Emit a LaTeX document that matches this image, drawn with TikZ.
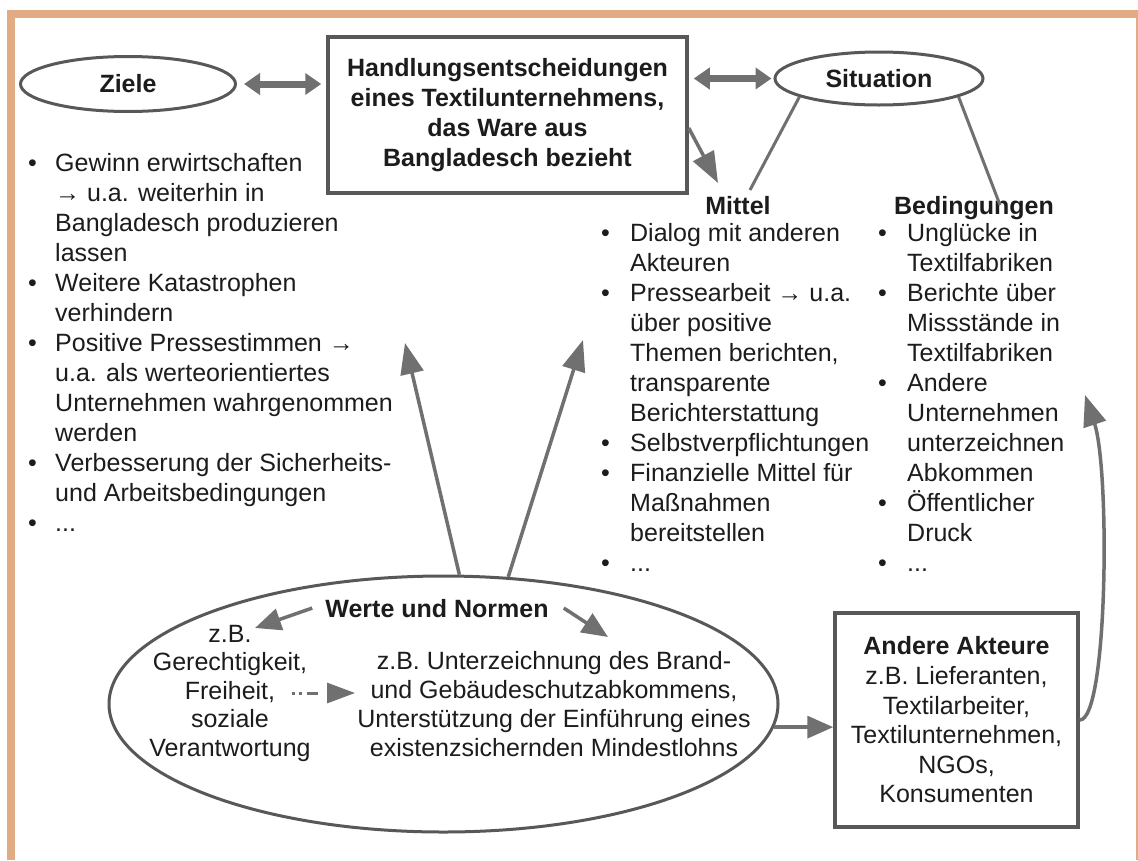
\documentclass[tikz,border=0pt]{standalone}
\usepackage{fontspec}
\setmainfont{Liberation Sans}
\usepackage{array}
\usetikzlibrary{arrows.meta,shapes.geometric,calc}
\newcommand{\setfs}[2]{\fontsize{#1}{#2}\selectfont}
\definecolor{frametan}{RGB}{225,171,131}
\definecolor{edgegray}{RGB}{88,88,88}
\definecolor{arrowgray}{RGB}{112,112,112}
\definecolor{txt}{RGB}{28,28,28}
\begin{document}
\begin{tikzpicture}[x=1pt,y=-1pt,
  ell/.style={ellipse, draw=edgegray, line width=3pt, inner sep=0pt, text=txt},
  boxst/.style={draw=edgegray, line width=3.5pt, inner sep=0pt, text=txt},
  lbl/.style={inner sep=0pt, text=txt, font=\setfs{25}{30}},
  hdg/.style={inner sep=0pt, text=txt, font=\bfseries\setfs{25}{30}},
  dbl/.style={draw=arrowgray, line width=7pt, {Triangle[length=16pt,width=21pt]}-{Triangle[length=16pt,width=21pt]}},
  bigarr/.style={draw=arrowgray, line width=3.5pt, -{Triangle[length=31pt,width=23pt]}},
  midarr/.style={draw=arrowgray, line width=3.5pt, -{Triangle[length=26pt,width=22pt]}},
  dasharr/.style={draw=arrowgray, line width=3pt, dash pattern=on 3pt off 4pt on 3pt off 5pt on 11pt off 20pt, -{Triangle[length=28pt,width=20pt]}},
  plainln/.style={draw=arrowgray, line width=3pt},
]
\fill[white] (0,0) rectangle (1138,860);
\useasboundingbox (0,0) rectangle (1138,860);
% frame
\draw[frametan, line width=8pt, line join=miter] (11,860) -- (11,14) -- (1138,14);
\draw[frametan, line width=2pt] (1136.5,14) -- (1136.5,860);

% top row
\node[ell, minimum width=215pt, minimum height=55pt, font=\bfseries\setfs{25}{30}] (ziele) at (128,84) {Ziele};
\node[boxst, minimum width=359pt, minimum height=156pt, font=\bfseries\setfs{25}{30}, align=center] (box) at (507.5,115)
  {Handlungsentscheidungen\\eines Textilunternehmens,\\das Ware aus\\Bangladesch bezieht};
\node[ell, minimum width=208pt, minimum height=53pt, font=\bfseries\setfs{25}{30}] (sit) at (879,78.5) {Situation};

% headings
\node[hdg, anchor=base] (mittel) at (738,214) {Mittel};
\node[hdg, anchor=base] (bed) at (974,214) {Bedingungen};

% lists
\node[lbl, anchor=base west] (zlist) at (28,171) {\begin{tabular}[t]{@{}p{27pt}@{}l@{}}
\textbullet & Gewinn erwirtschaften\\
 & → u.a. weiterhin in\\
 & Bangladesch produzieren\\
 & lassen\\
\textbullet & Weitere Katastrophen\\
 & verhindern\\
\textbullet & Positive Pressestimmen →\\
 & u.a. als werteorientiertes\\
 & Unternehmen wahrgenommen\\
 & werden\\
\textbullet & Verbesserung der Sicherheits-\\
 & und Arbeitsbedingungen\\
\textbullet & ...
\end{tabular}};

\node[lbl, anchor=base west] (mlist) at (601,241) {\begin{tabular}[t]{@{}p{29pt}@{}l@{}}
\textbullet & Dialog mit anderen\\
 & Akteuren\\
\textbullet & Pressearbeit → u.a.\\
 & über positive\\
 & Themen berichten,\\
 & transparente\\
 & Berichterstattung\\
\textbullet & Selbstverpflichtungen\\
\textbullet & Finanzielle Mittel für\\
 & Maßnahmen\\
 & bereitstellen\\
\textbullet & ...
\end{tabular}};

\node[lbl, anchor=base west] (blist) at (878,241) {\begin{tabular}[t]{@{}p{29pt}@{}l@{}}
\textbullet & Unglücke in\\
 & Textilfabriken\\
\textbullet & Berichte über\\
 & Missstände in\\
 & Textilfabriken\\
\textbullet & Andere\\
 & Unternehmen\\
 & unterzeichnen\\
 & Abkommen\\
\textbullet & Öffentlicher\\
 & Druck\\
\textbullet & ...
\end{tabular}};

% Werte und Normen
\node[ell, minimum width=669pt, minimum height=256pt] (werte) at (443.5,704) {};
\node[hdg, anchor=base] (wn) at (437,617) {Werte und Normen};
\node[lbl, font=\setfs{25}{28.5}, anchor=base] (zb) at (230,642) {\begin{tabular}[t]{@{}c@{}}
z.B.\\Gerechtigkeit,\\Freiheit,\\soziale\\Verantwortung\end{tabular}};
\node[lbl, font=\setfs{25}{29}, anchor=base] (ub) at (554,669) {\begin{tabular}[t]{@{}c@{}}
z.B. Unterzeichnung des Brand-\\und Gebäudeschutzabkommens,\\Unterstützung der Einführung eines\\existenzsichernden Mindestlohns\end{tabular}};

% Andere Akteure
\node[boxst, minimum width=243pt, minimum height=214pt, font=\setfs{25}{29.6}, align=center] (akt) at (956.5,720)
  {\textbf{Andere Akteure}\\z.B. Lieferanten,\\Textilarbeiter,\\Textilunternehmen,\\NGOs,\\Konsumenten};

% free ends
\coordinate (tipL) at (405,343);
\coordinate (tipR) at (583,340);
\coordinate (mtip) at (718,183);
\coordinate (sitL) at (750,190);
\coordinate (sitR) at (1000,205);
\coordinate (wnLtip) at (255,628);
\coordinate (wnRtip) at (608,637);
\coordinate (dashS) at (292,693);
\coordinate (dashE) at (355,693);
\coordinate (ctip) at (1085,395);

% connectors
\draw[dbl] ($(ziele.east)+(7,0)$) -- ($(box.west |- ziele.east)+(-5,0)$);
\draw[dbl] ($(box.east |- sit.west)+(5,0)$) -- ($(sit.west)+(-2,0)$);
\draw[plainln] (sit.193) -- (sitL);
\draw[plainln] (sit.-13) -- (sitR);
\draw[bigarr] ($(box.east)+(0,13)$) -- (mtip);
\draw[bigarr] (werte.83) -- (tipL);
\draw[bigarr] (werte.63) -- (tipR);
\draw[midarr] ($(wn.west)+(-13,0)$) -- (wnLtip);
\draw[midarr] ($(wn.east)+(15,0)$) -- (wnRtip);
\draw[dasharr] (dashS) -- (dashE);
\draw[midarr] (werte.-4) -- (werte.-4 -| akt.west);
\draw[bigarr] (akt.east) .. controls (1108,720) and (1110,470) .. (ctip);
\end{tikzpicture}
\end{document}
